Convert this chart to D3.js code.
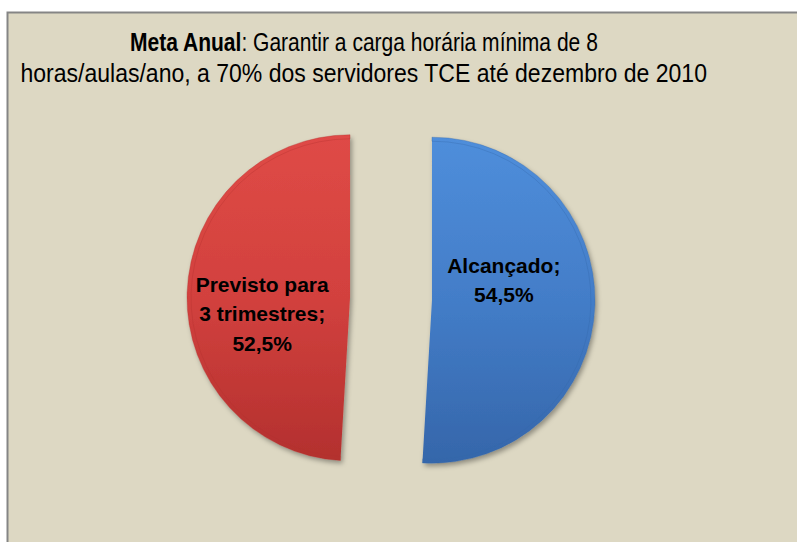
<!DOCTYPE html>
<html>
<head>
<meta charset="utf-8">
<script src="https://cdn.jsdelivr.net/npm/d3@7"></script>
<style>
  html, body { margin: 0; padding: 0; background: #fff; }
  svg { display: block; }
</style>
</head>
<body>
<div id="chart"></div>
<script>
// data
var categories = ['Alcançado', 'Previsto para 3 trimestres'];
var values = [54.5, 52.5];
var labelLines = [['Alcançado;'], ['Previsto para', '3 trimestres;']];
var titleBold = 'Meta Anual';
var titleLines = [': Garantir a carga horária mínima de 8',
                  'horas/aulas/ano, a 70% dos servidores TCE até dezembro de 2010'];

var w = 797;
var h = 542;
var cx = 391, cy = 299;   // pie centre
var r = 163;
var explode = 41;
var font = '"Liberation Sans", Arial, sans-serif';

var colors = d3.scaleOrdinal()
    .domain(categories)
    .range([
        {top: '#4f8edb', mid: '#437dc8', bottom: '#3566aa'},
        {top: '#df4a46', mid: '#d2413e', bottom: '#b3302e'}
    ]);

var ptBR = d3.formatLocale({decimal: ',', thousands: '.', grouping: [3], currency: ['R$', '']});
var fmt = ptBR.format('.1f');

var svg = d3.select('#chart').append('svg')
    .attr('width', w)
    .attr('height', h);

var defs = svg.append('defs');

categories.forEach(function (c, i) {
    var col = colors(c);
    var g = defs.append('linearGradient')
        .attr('id', 'grad' + i)
        .attr('x1', 0).attr('y1', 0).attr('x2', 0).attr('y2', 1);
    g.append('stop').attr('offset', '0%').attr('stop-color', col.top);
    g.append('stop').attr('offset', '50%').attr('stop-color', col.mid);
    g.append('stop').attr('offset', '100%').attr('stop-color', col.bottom);
});

var shadow = defs.append('filter')
    .attr('id', 'shadow')
    .attr('x', '-20%').attr('y', '-20%')
    .attr('width', '140%').attr('height', '140%');
shadow.append('feDropShadow')
    .attr('dx', 2).attr('dy', 3)
    .attr('stdDeviation', 2.5)
    .attr('flood-color', '#000')
    .attr('flood-opacity', 0.35);

// chart area frame (cropped at right / bottom like the picture)
svg.append('rect')
    .attr('x', 7.5).attr('y', 12.5)
    .attr('width', w + 10).attr('height', h + 10)
    .attr('fill', '#ddd8c3')
    .attr('stroke', '#858585')
    .attr('stroke-width', 2);

// title, squeezed horizontally to the narrow face of the original
var titleX = 364;
var titleRows = [
    {y: 51, width: 468, parts: [[titleBold, 'bold'], [titleLines[0], 'normal']]},
    {y: 82, width: 687, parts: [[titleLines[1], 'normal']]}
];

titleRows.forEach(function (row) {
    var t = svg.append('text')
        .attr('font-family', font)
        .attr('font-size', 25)
        .attr('fill', '#000');
    row.parts.forEach(function (p) {
        t.append('tspan').attr('font-weight', p[1]).text(p[0]);
    });
    var nat = t.node().getComputedTextLength();
    var k = row.width / nat;
    t.attr('transform', 'translate(' + (titleX - row.width / 2) + ',' + row.y + ') scale(' + k + ',1)');
});

// pie
var pie = d3.pie()
    .sort(null)
    .value(function (d) { return d; });

var arcs = pie(values);

var arc = d3.arc()
    .innerRadius(0)
    .outerRadius(r);

var labelArc = d3.arc()
    .innerRadius(r * 0.49)
    .outerRadius(r * 0.49);

// small nudges to follow Excel's label placement
var labelNudge = [[-8, -23], [-8, 18]];

var slices = svg.append('g')
    .attr('transform', 'translate(' + cx + ',' + cy + ')')
    .selectAll('g.slice')
    .data(arcs)
    .enter().append('g')
    .attr('class', 'slice')
    .attr('transform', function (d) {
        var a = (d.startAngle + d.endAngle) / 2;
        return 'translate(' + (Math.sin(a) * explode) + ',' + (-Math.cos(a) * explode) + ')';
    });

slices.append('path')
    .attr('d', arc)
    .attr('fill', function (d, i) { return 'url(#grad' + i + ')'; })
    .attr('filter', 'url(#shadow)');

// bevel rim
slices.append('path')
    .attr('d', d3.arc().innerRadius(r - 4).outerRadius(r))
    .attr('fill', 'none')
    .attr('stroke', function (d, i) { return colors(categories[i]).bottom; })
    .attr('stroke-opacity', 0.35)
    .attr('stroke-width', 1);

var lineH = 29.5;
slices.append('text')
    .attr('text-anchor', 'middle')
    .attr('font-family', font)
    .attr('font-weight', 'bold')
    .attr('font-size', 21)
    .attr('fill', '#000')
    .each(function (d, i) {
        var lines = labelLines[i].concat([fmt(values[i]) + '%']);
        var c = labelArc.centroid(d);
        var x = c[0] + labelNudge[i][0];
        var y0 = c[1] + labelNudge[i][1] - (lines.length - 1) * lineH / 2 + 8;
        var t = d3.select(this);
        lines.forEach(function (l, k) {
            t.append('tspan').attr('x', x).attr('y', y0 + k * lineH).text(l);
        });
    });
</script>
</body>
</html>
